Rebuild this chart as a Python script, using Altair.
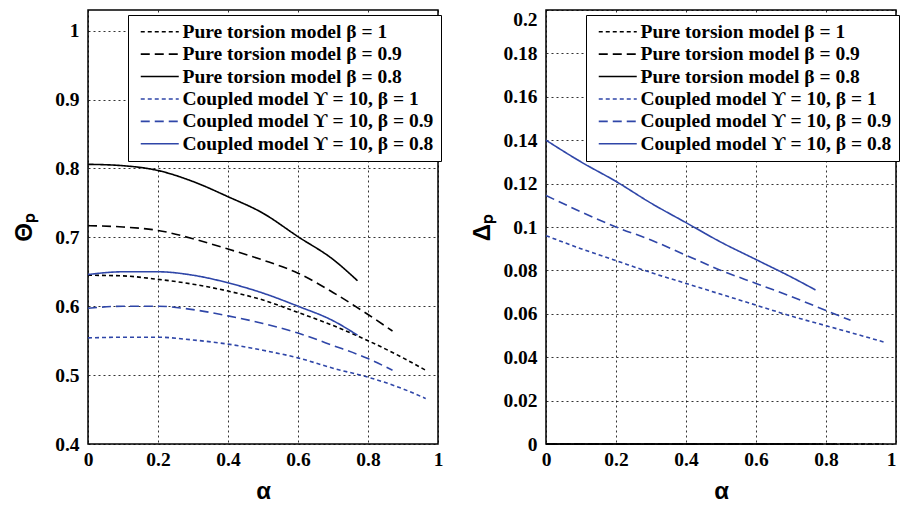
import altair as alt
import pandas as pd

# ---------------- data ----------------
series_names = [
    "Pure torsion model β = 1",
    "Pure torsion model β = 0.9",
    "Pure torsion model β = 0.8",
    "Coupled model ϒ = 10, β = 1",
    "Coupled model ϒ = 10, β = 0.9",
    "Coupled model ϒ = 10, β = 0.8",
]
series_colors = ["#000000", "#000000", "#000000", "#2f46a8", "#2f46a8", "#2f46a8"]
series_dashes = [[4, 3], [9, 5], [1, 0], [4, 3], [9, 5], [1, 0]]

alpha_b1 = [0, 0.1, 0.2, 0.3, 0.4, 0.5, 0.6, 0.7, 0.8, 0.9, 0.965]
alpha_b09 = [0, 0.1, 0.2, 0.3, 0.4, 0.5, 0.6, 0.7, 0.8, 0.87]
alpha_b08 = [0, 0.1, 0.2, 0.3, 0.4, 0.5, 0.6, 0.7, 0.77]

# left panel: Theta_p
theta_pure_b1 = [0.645, 0.644, 0.639, 0.632, 0.622, 0.609, 0.591, 0.572, 0.550, 0.525, 0.507]
theta_pure_b09 = [0.717, 0.715, 0.710, 0.698, 0.683, 0.667, 0.648, 0.620, 0.588, 0.564]
theta_pure_b08 = [0.806, 0.804, 0.797, 0.781, 0.759, 0.735, 0.701, 0.668, 0.637]
theta_coup_b1 = [0.554, 0.555, 0.555, 0.551, 0.545, 0.536, 0.525, 0.510, 0.497, 0.480, 0.466]
theta_coup_b09 = [0.597, 0.600, 0.600, 0.595, 0.586, 0.575, 0.561, 0.543, 0.524, 0.507]
theta_coup_b08 = [0.646, 0.650, 0.650, 0.645, 0.634, 0.619, 0.600, 0.579, 0.558]

# right panel: Delta_p
delta_pure_b1 = [0, 0, 0, 0, 0, 0, 0, 0, 0, 0, 0]
delta_pure_b09 = [0, 0, 0, 0, 0, 0, 0, 0, 0, 0]
delta_pure_b08 = [0, 0, 0, 0, 0, 0, 0, 0, 0]
delta_coup_b1 = [0.096, 0.090, 0.0845, 0.079, 0.074, 0.069, 0.064, 0.059, 0.0545, 0.050, 0.047]
delta_coup_b09 = [0.1145, 0.107, 0.100, 0.094, 0.087, 0.080, 0.074, 0.068, 0.0615, 0.057]
delta_coup_b08 = [0.140, 0.130, 0.121, 0.111, 0.102, 0.093, 0.085, 0.077, 0.071]

x_ticks = [0, 0.2, 0.4, 0.6, 0.8, 1]
theta_ticks = [0.4, 0.5, 0.6, 0.7, 0.8, 0.9, 1.0]
delta_ticks = [0, 0.02, 0.04, 0.06, 0.08, 0.1, 0.12, 0.14, 0.16, 0.18, 0.2]


def build(xs_list, ys_list):
    rows = []
    for name, xs, ys in zip(series_names, xs_list, ys_list):
        for k, (a, v) in enumerate(zip(xs, ys)):
            rows.append({"series": name, "alpha": a, "value": v, "order": k})
    return pd.DataFrame(rows)


alphas = [alpha_b1, alpha_b09, alpha_b08, alpha_b1, alpha_b09, alpha_b08]
df_theta = build(alphas, [theta_pure_b1, theta_pure_b09, theta_pure_b08,
                          theta_coup_b1, theta_coup_b09, theta_coup_b08])
df_delta = build(alphas, [delta_pure_b1, delta_pure_b09, delta_pure_b08,
                          delta_coup_b1, delta_coup_b09, delta_coup_b08])

W, H = 350, 434
SERIF = "Liberation Serif"
SANS = "Liberation Sans"


def legend(lx):
    return alt.Legend(
        title=None, orient="none", legendX=lx, legendY=5,
        symbolType="M-1,0H8.5", symbolSize=64, symbolStrokeWidth=1.6,
        labelOffset=28, labelFont=SERIF, labelFontWeight="bold",
        labelFontSize=19.5, labelColor="black", labelLimit=0,
        padding=7, rowPadding=1.4, fillColor="white", strokeColor="black",
    )


def panel(df, ydomain, yticks, ytitle, lx, y_base, x_align):
    color = alt.Color("series:N", scale=alt.Scale(domain=series_names, range=series_colors),
                      legend=legend(lx))
    dash = alt.StrokeDash("series:N", scale=alt.Scale(domain=series_names, range=series_dashes),
                          legend=legend(lx))
    return alt.Chart(df).mark_line(strokeWidth=1.6, interpolate="monotone").encode(
        x=alt.X("alpha:Q", scale=alt.Scale(domain=[0, 1], nice=False),
                axis=alt.Axis(values=x_ticks, format="~g", title="α",
                              labelPadding=6, titleY=54, titleBaseline="alphabetic",
                              labelAlign=x_align)),
        y=alt.Y("value:Q", scale=alt.Scale(domain=ydomain, nice=False, zero=False),
                axis=alt.Axis(values=yticks, format="~g", title=ytitle,
                              labelPadding=9, titleX=-64, titleBaseline="middle",
                              labelBaseline=y_base)),
        color=color,
        strokeDash=dash,
        order="order:Q",
    ).properties(width=W, height=H)


left = panel(df_theta, [0.4, 1.03], theta_ticks, "Θₚ", 40, "middle", "center")
right = panel(df_delta, [0, 0.2], delta_ticks, "Δₚ", 40,
              {"condition": {"test": "datum.value >= 0.19", "value": "top"}, "value": "middle"},
              {"condition": {"test": "datum.value >= 0.99", "value": "right"}, "value": "center"})

chart = alt.hconcat(left, right, spacing=25).resolve_scale(
    color="independent", strokeDash="independent"
).resolve_legend(
    color="independent", strokeDash="independent"
).configure(
    padding={"left": 3, "top": 0, "right": 0, "bottom": 0},
    background="white",
).configure_view(
    stroke="black", strokeWidth=1.5
).configure_axis(
    labelFont=SERIF, labelFontWeight="bold", labelFontSize=19.5, labelColor="black",
    tickSize=0, domain=False, grid=True, gridColor="black", gridDash=[2, 3],
    gridOpacity=0.8, gridWidth=1,
    titleFont=SANS, titleFontWeight="bold", titleFontSize=24, titleColor="black",
)

chart.save("out.html", embed_options={"renderer": "svg", "actions": False})
